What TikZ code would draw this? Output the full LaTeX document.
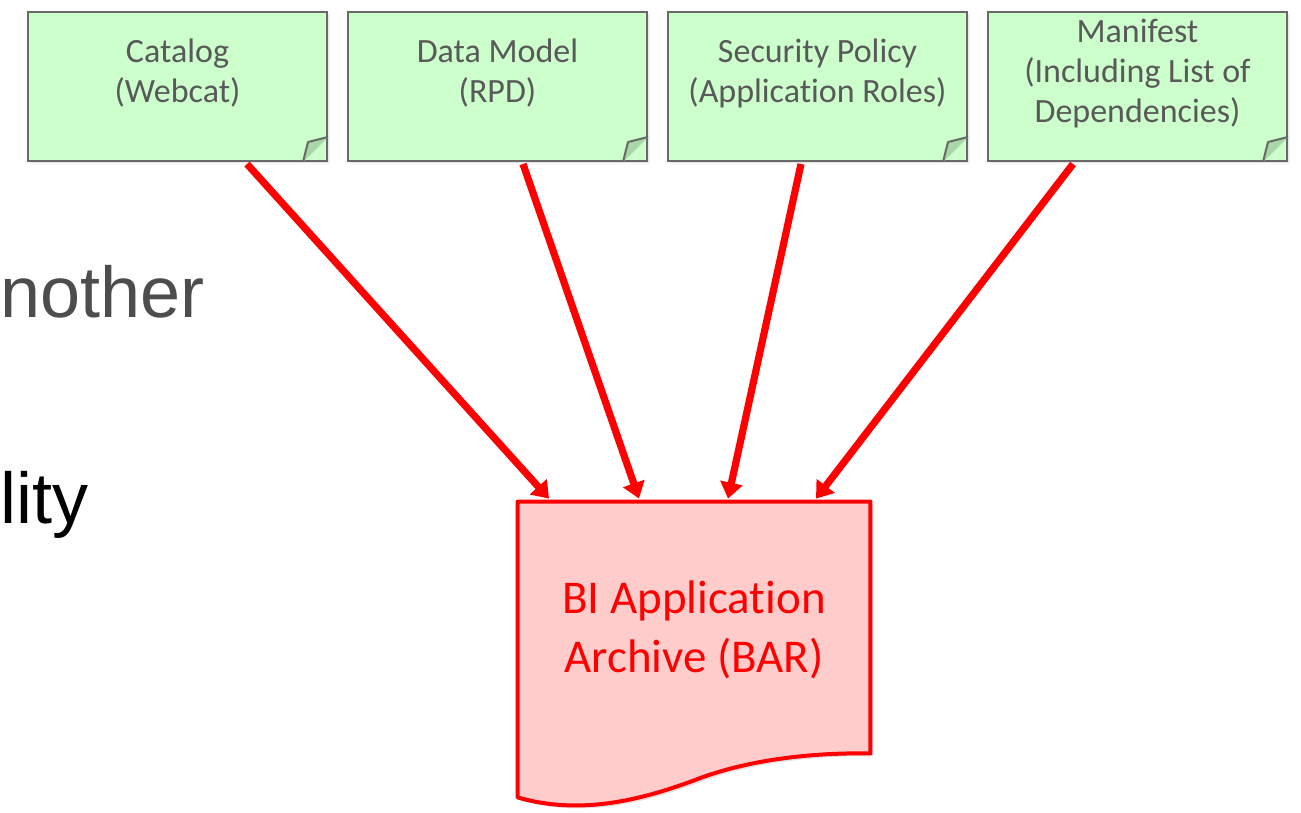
\documentclass[tikz,border=0pt]{standalone}
\usepackage{fontspec}
\setmainfont{Carlito}[Ligatures={NoCommon}]
\newfontfamily\slidefont{Liberation Sans}
\usetikzlibrary{arrows.meta,calc,shapes.misc,shadows}
\definecolor{noteFill}{RGB}{204,255,204}
\definecolor{noteFold}{RGB}{168,214,168}
\definecolor{noteLine}{RGB}{105,105,105}
\definecolor{noteInk}{RGB}{89,89,89}
\definecolor{barFill}{RGB}{255,204,204}
\definecolor{barRed}{RGB}{255,0,0}
\definecolor{slideGray}{RGB}{77,77,77}

\begin{document}
\begin{tikzpicture}[x=0.5pt,y=-0.5pt,
  note/.style={chamfered rectangle,chamfered rectangle corners=south east,
               chamfered rectangle xsep=12.5pt,draw=noteLine,line width=1pt,
               fill=noteFill,minimum width=149.5pt,minimum height=74.5pt,inner sep=0pt,
               drop shadow={shadow xshift=1.2pt,shadow yshift=-1.2pt,opacity=0.2}},
  ntxt/.style={font=\fontsize{17}{20}\selectfont,text=noteInk,align=center,inner sep=0pt},
  fold/.style={fill=noteFold,draw=noteLine,line width=1pt,line join=round},
  feed/.style={draw=barRed,line width=3.6pt,-{Triangle[length=8pt,width=11pt]}},
  slide/.style={font=\slidefont\fontsize{36}{40}\selectfont,inner sep=0pt,anchor=base west}]
  \useasboundingbox (0,0) rectangle (1301,813);
  % slide text behind the figure
  \node[slide,text=slideGray] (another) at (0,317) {nother};
  \node[slide,text=black] (ability) at (0,523) {lity};
  % the four inputs
  \node[note,label={[ntxt,yshift=6.5pt]center:Catalog\\(Webcat)}] (cat) at (177.5,86.5) {};
  \node[note,label={[ntxt,yshift=6.5pt]center:Data Model\\(RPD)}] (rpd) at (497.5,86.5) {};
  \node[note,label={[ntxt,yshift=6.5pt]center:Security Policy\\(Application Roles)}] (sec) at (817.5,86.5) {};
  \node[note,label={[ntxt,yshift=6.5pt]center:Manifest\\(Including List of\\Dependencies)}] (man) at (1137.5,86.5) {};
  \foreach \n in {cat,rpd,sec,man}
    \draw[fold] ($(\n.east |- \n.south)+(0pt,12.5pt)$) -- ($(\n.east |- \n.south)+(-10pt,10pt)$)
      -- ($(\n.east |- \n.south)+(-12.5pt,0pt)$);
  % the archive
  \node[minimum width=176pt,minimum height=128pt,inner sep=0pt] (bar) at (694,630) {};
  \draw[draw=barRed,line width=2pt,fill=barFill,line join=round,
        drop shadow={shadow xshift=1.5pt,shadow yshift=-1.5pt,opacity=0.25}]
    (bar.north west) -- (bar.north east) -- ([yshift=2.5pt]bar.south east)
    .. controls +(-35pt,0.5pt) and +(23pt,9pt) .. ([yshift=-11pt]bar.south)
    .. controls +(-27pt,-10pt) and +(31pt,-9pt) .. ([yshift=-19.5pt]bar.south west) -- cycle;
  \node[font=\fontsize{23.5}{29.5}\selectfont,text=barRed,align=center] (bartxt) at (bar.center)
    {BI Application\\Archive (BAR)};
  % feeds
  \draw[feed] ([xshift=34.75pt,yshift=-1pt]cat.south) -- ([xshift=-72.5pt,yshift=1.5pt]bar.north);
  \draw[feed] ([xshift=12.75pt,yshift=-1pt]rpd.south) -- ([xshift=-27.5pt,yshift=1.5pt]bar.north);
  \draw[feed] ([xshift=-8.25pt,yshift=-1pt]sec.south) -- ([xshift=17pt,yshift=1.5pt]bar.north);
  \draw[feed] ([xshift=-32.25pt,yshift=-1pt]man.south) -- ([xshift=61pt,yshift=1.5pt]bar.north);
\end{tikzpicture}
\end{document}
